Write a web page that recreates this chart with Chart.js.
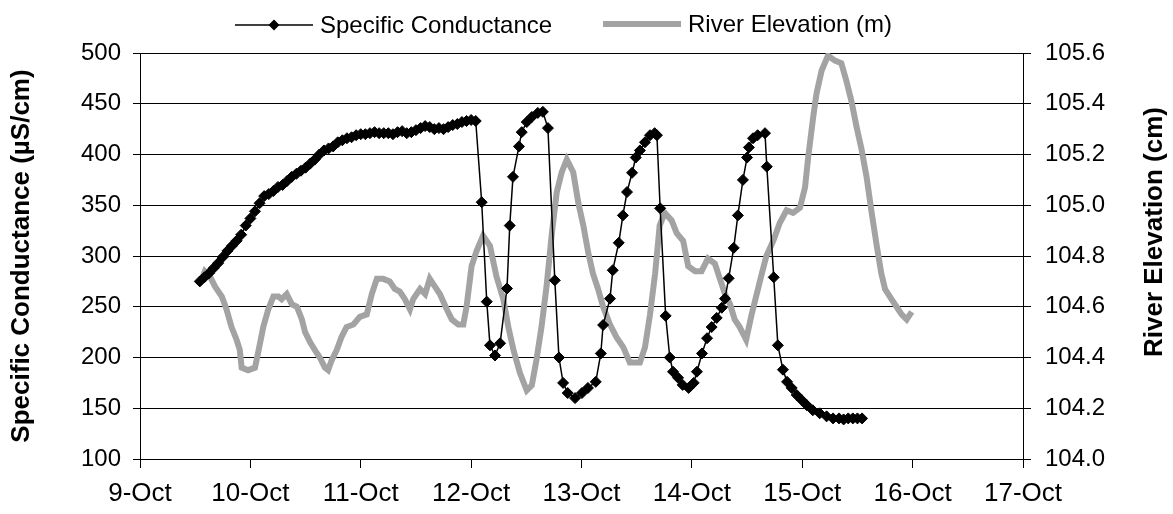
<!DOCTYPE html>
<html>
<head>
<meta charset="utf-8">
<script src="https://cdn.jsdelivr.net/npm/chart.js@4/dist/chart.umd.min.js"></script>
<style>
  html, body { margin: 0; padding: 0; background: #fff; }
  #wrap { width: 1173px; height: 514px; }
</style>
</head>
<body>
<div id="wrap"><canvas id="condChart" width="1173" height="514"></canvas></div>
<script>
// time is in hours counted from 9-Oct 00:00
const firstDay = 9;
const monthName = 'Oct';

// specific conductance (µS/cm)
const scHours = [
  13, 14, 15, 16, 17, 18, 19, 20, 21, 22, 23, 24, 25, 26, 27, 28, 29, 30, 31, 32,
  33, 34, 35, 36, 37, 38, 39, 40, 41, 42, 43, 44, 45, 46, 47, 48, 49, 50, 51, 52,
  53, 54, 55, 56, 57, 58, 59, 60, 61, 62, 63, 64, 65, 66, 67, 68, 69, 70, 71, 72, 73,
  74.3, 75.4, 76.1, 77.2, 78.3, 79.8, 80.4, 81.1, 82.4, 83.0, 84.1, 85.2, 86.5, 87.6, 88.7,
  90.2, 91.1, 92.0, 93.0, 94.6, 96.1, 97.4, 99.1, 100.2, 100.7, 102.2, 102.8, 104.1, 105.0,
  105.9, 107.0, 107.8, 108.7, 109.8, 110.9, 111.9, 112.4, 113.1, 114.3, 115.2, 115.9, 117.0,
  118.0, 119.3, 120.4, 121.1, 122.2, 123.3, 124.3, 125.4, 126.5, 127.2, 128.0, 129.1, 130.0,
  131.1, 132.0, 132.4, 133.3, 134.3, 135.9, 136.3, 137.8, 138.7, 139.8, 140.7, 141.7, 142.8,
  143.9, 145.0, 146.3, 147.8, 149.3, 150.7, 152.0, 153.0, 154.0, 155.0, 156.0, 157.0
];
const scValues = [
  275, 279, 283, 288, 293, 299, 305, 310, 315, 321, 330, 337, 344, 352, 359, 361, 364, 368, 370, 374,
  378, 381, 384, 387, 391, 395, 400, 404, 406, 408, 412, 414, 416, 417, 419, 420, 420, 421, 422, 421,
  421, 421, 420, 422, 423, 421, 422, 424, 426, 428, 427, 425, 426, 425, 427, 429, 430, 432, 433, 434, 433,
  353, 255, 212, 202, 214, 268, 330, 378, 408, 422, 432, 437, 441, 442, 426,
  276, 200, 175, 165, 160, 165, 170, 176, 204, 232, 258, 286, 313, 340,
  363, 382, 397, 404, 412, 419, 421, 419, 347, 241, 200, 186, 180,
  173, 170, 175, 186, 204, 219, 230, 239, 249, 258, 278, 308, 340,
  375, 397, 407, 416, 419, 421, 388, 279, 212, 188, 176, 170, 163,
  158, 153, 148, 145, 142, 140, 140, 139, 140, 140, 140, 140
];

// river elevation (m)
const elevHours = [
  13.0, 14.1, 15.2, 16.3, 17.8, 18.8, 19.9, 21.0, 21.7, 22.1,
  23.5, 25.0, 25.7, 26.8, 27.9, 29.0, 30.1, 30.8, 31.9, 33.0,
  34.1, 35.2, 35.9, 37.0, 38.0, 39.1, 40.2, 40.9, 41.7, 42.8,
  43.8, 44.9, 46.4, 47.8, 49.3, 50.4, 51.5, 52.9, 54.3, 55.4,
  56.5, 57.6, 58.7, 59.4, 60.9, 62.0, 63.0, 64.1, 65.2, 66.7,
  67.8, 69.2, 70.3, 71.0, 72.1, 73.2, 74.6, 76.1, 77.5, 79.0,
  80.1, 81.2, 82.6, 84.1, 85.2, 86.2, 87.3, 88.4, 89.5, 90.6,
  91.7, 92.8, 94.2, 95.3, 96.4, 97.5, 98.5, 99.6, 100.7, 102.2,
  103.6, 105.1, 106.5, 108.7, 109.8, 110.9, 112.0, 113.0, 114.1, 115.6,
  116.7, 118.1, 119.2, 120.7, 122.1, 123.5, 125.0, 126.1, 127.2, 128.3,
  129.3, 130.4, 131.8, 133.0, 134.1, 135.2, 136.2, 137.7, 139.1, 140.6,
  142.0, 143.5, 144.6, 145.3, 146.4, 147.1, 148.2, 149.6, 151.1, 152.5,
  153.6, 154.7, 155.8, 156.9, 158.0, 159.1, 160.2, 161.2, 162.0, 163.4,
  164.5, 165.6, 166.7, 167.8
];
const elevValues = [
  104.69, 104.74, 104.72, 104.68, 104.64, 104.59, 104.52, 104.47, 104.43, 104.36,
  104.35, 104.36, 104.42, 104.52, 104.59, 104.64, 104.64, 104.63, 104.65, 104.61,
  104.60, 104.55, 104.50, 104.46, 104.43, 104.40, 104.36, 104.35, 104.39, 104.43,
  104.48, 104.52, 104.53, 104.56, 104.57, 104.65, 104.71, 104.71, 104.70, 104.67,
  104.66, 104.63, 104.59, 104.63, 104.67, 104.65, 104.71, 104.68, 104.65, 104.59,
  104.55, 104.53, 104.53, 104.60, 104.76, 104.82, 104.88, 104.84, 104.72, 104.63,
  104.52, 104.43, 104.34, 104.27, 104.29, 104.39, 104.52, 104.68, 104.88, 105.05,
  105.13, 105.18, 105.13, 105.01, 104.92, 104.81, 104.73, 104.67, 104.60, 104.53,
  104.48, 104.44, 104.38, 104.38, 104.44, 104.57, 104.73, 104.92, 104.97, 104.94,
  104.89, 104.86, 104.76, 104.74, 104.74, 104.79, 104.77, 104.71, 104.65, 104.61,
  104.55, 104.52, 104.47, 104.57, 104.65, 104.73, 104.80, 104.86, 104.93, 104.98,
  104.97, 104.99, 105.07, 105.19, 105.35, 105.44, 105.53, 105.59, 105.57, 105.56,
  105.49, 105.41, 105.31, 105.22, 105.11, 104.97, 104.84, 104.73, 104.67, 104.63,
  104.60, 104.57, 104.55, 104.58
];

const fontFamily = '"Liberation Sans", Arial, sans-serif';
const rightTitle = 'River Elevation (cm)';

// legend drawn by hand: line sample with the marker in the middle
const lineLegend = {
  id: 'lineLegend',
  afterDraw(chart) {
    const ctx = chart.ctx;
    const spots = [{ x: 235, y: 25 }, { x: 603, y: 24 }];
    ctx.save();
    ctx.font = '24px ' + fontFamily;
    ctx.textBaseline = 'middle';
    chart.data.datasets.forEach((ds, i) => {
      const p = spots[i];
      ctx.strokeStyle = ds.borderColor;
      ctx.lineWidth = ds.borderWidth;
      ctx.beginPath();
      ctx.moveTo(p.x, p.y);
      ctx.lineTo(p.x + 78, p.y);
      ctx.stroke();
      if (ds.pointRadius > 0) {
        const r = ds.pointRadius;
        const cx = p.x + 39;
        ctx.fillStyle = ds.pointBackgroundColor;
        ctx.beginPath();
        ctx.moveTo(cx, p.y - r);
        ctx.lineTo(cx + r, p.y);
        ctx.lineTo(cx, p.y + r);
        ctx.lineTo(cx - r, p.y);
        ctx.closePath();
        ctx.fill();
      }
      ctx.fillStyle = '#000';
      ctx.fillText(ds.label, p.x + 85, p.y + 1);
    });

    // right axis title reads bottom-to-top, a little above the axis middle
    ctx.translate(1155, 232);
    ctx.rotate(-Math.PI / 2);
    ctx.font = 'bold 26px ' + fontFamily;
    ctx.textAlign = 'center';
    ctx.fillText(rightTitle, 0, 0);
    ctx.restore();
  }
};

const ctx = document.getElementById('condChart').getContext('2d');
new Chart(ctx, {
  type: 'line',
  data: {
    datasets: [{
      label: 'Specific Conductance',
      data: scHours.map((h, i) => ({ x: h, y: scValues[i] })),
      yAxisID: 'y',
      borderColor: '#000',
      borderWidth: 1.5,
      pointStyle: 'rectRot',
      pointRadius: 5.5,
      pointBackgroundColor: '#000',
      pointBorderColor: '#000',
      pointBorderWidth: 1,
      tension: 0
    }, {
      label: 'River Elevation (m)',
      data: elevHours.map((h, i) => ({ x: h, y: elevValues[i] })),
      yAxisID: 'y1',
      borderColor: '#a3a3a3',
      borderWidth: 6,
      pointRadius: 0,
      tension: 0
    }]
  },
  options: {
    responsive: false,
    animation: false,
    layout: { padding: { top: 53, left: 0, right: 0, bottom: 0 } },
    plugins: {
      legend: { display: false },
      tooltip: { enabled: false }
    },
    scales: {
      x: {
        type: 'linear',
        min: 0,
        max: 192,
        afterFit: (scale) => { scale.height = 55; },
        grid: { drawOnChartArea: false, color: '#000', tickLength: 9 },
        border: { color: '#000', width: 1 },
        ticks: {
          stepSize: 24,
          autoSkip: false,
          maxRotation: 0,
          padding: 10,
          color: '#000',
          font: { family: fontFamily, size: 26 },
          callback: (v) => (firstDay + v / 24) + '-' + monthName
        }
      },
      y: {
        position: 'left',
        min: 100,
        max: 500,
        afterFit: (scale) => { scale.width = 140; },
        grid: { color: '#000', tickLength: 7 },
        border: { color: '#000', width: 1 },
        ticks: {
          stepSize: 50,
          padding: 12,
          color: '#000',
          font: { family: fontFamily, size: 24 }
        },
        title: {
          display: true,
          text: 'Specific Conductance (µS/cm)',
          color: '#000',
          font: { family: fontFamily, size: 26, weight: 'bold' },
          padding: { top: 6, bottom: 0 }
        }
      },
      y1: {
        position: 'right',
        min: 104.0,
        max: 105.6,
        afterFit: (scale) => { scale.width = 150; },
        grid: { drawOnChartArea: false, color: '#000', tickLength: 8 },
        border: { color: '#000', width: 1 },
        ticks: {
          stepSize: 0.2,
          padding: 14,
          color: '#000',
          font: { family: fontFamily, size: 24 },
          callback: (v) => v.toFixed(1)
        }
      }
    }
  },
  plugins: [lineLegend]
});
</script>
</body>
</html>
